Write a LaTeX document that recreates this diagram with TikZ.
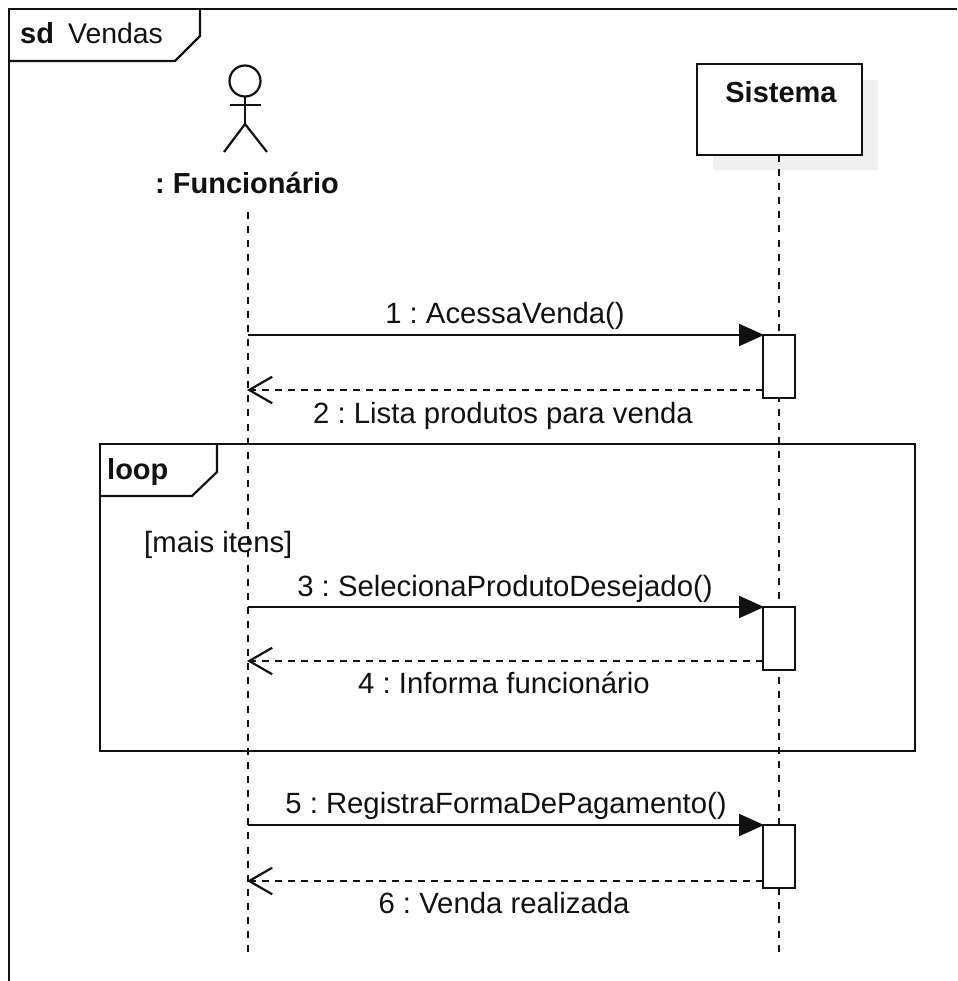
\documentclass[tikz,border=0pt]{standalone}
\usepackage{fontspec}
\setmainfont{Liberation Sans}
\usetikzlibrary{arrows.meta,calc}
\definecolor{ink}{HTML}{111111}
\frenchspacing
\tikzset{
  px/.style={x=1pt,y=-1pt},
  ln/.style={draw=ink,line width=2.2pt},
  lifeln/.style={draw=ink,line width=2.2pt,dash pattern=on 7pt off 7.1pt},
  boxed/.style={draw=ink,line width=2.2pt,fill=white,inner sep=0pt,outer sep=0pt,minimum width=32pt,minimum height=63pt},
  msgcall/.style={ln,-{Triangle[length=25pt,width=22pt]},shorten >=-1pt},
  msgret/.style={draw=ink,line width=2.2pt,dash pattern=on 7pt off 6pt,-{Straight Barb[length=23pt,width=21pt,line width=2.2pt,angle'=60]},shorten >=-1pt},
  lbl/.style={font=\fontsize{29.3pt}{32pt}\selectfont,text=ink,inner sep=0pt,anchor=base},
  blbl/.style={lbl,font=\fontsize{29pt}{32pt}\selectfont\bfseries},
}
\begin{document}
\begin{tikzpicture}[px]
\useasboundingbox (0,0) rectangle (957,981);
% outer frame
\coordinate (fa) at (9,981);
\coordinate (fb) at (9,9);
\coordinate (fc) at (957,9);
\draw[ln] (fa) -- (fb) -- (fc);
\coordinate (ta) at (200,9);
\coordinate (tb) at (200,36);
\coordinate (tc) at (175,61);
\coordinate (td) at (9,61);
\draw[ln] (ta) -- (tb) -- (tc) -- (td);
\node[blbl,anchor=base west] (sdk) at (20,44) {sd};
\node[lbl,anchor=base west,font=\fontsize{28.4pt}{32pt}\selectfont] (sdn) at (68,44) {Vendas};
% system head
\fill[black!6] (713,80) rectangle (878,170);
\node[draw=ink,line width=2.2pt,fill=white,minimum width=165pt,minimum height=91pt,inner sep=0pt,outer sep=0pt] (sys) at (779.5,109.5) {};
\node[blbl] (syst) at (781,103) {Sistema};
% actor
\node[draw=ink,line width=2.2pt,circle,minimum size=31pt,inner sep=0pt,outer sep=0pt] (head) at (245,81) {};
\coordinate (hip) at (245,124);
\coordinate (arml) at (230,105);
\coordinate (armr) at (261,105);
\coordinate (legl) at (224,152);
\coordinate (legr) at (267,152);
\draw[ln] (head.south) -- (hip);
\draw[ln] (arml) -- (armr);
\draw[ln] (legl) -- (hip) -- (legr);
\node[blbl] (actor) at (247,194) {: Funcionário};
% lifelines
\coordinate (l1top) at (248,212);
\coordinate (l1end) at (248,952);
\coordinate (l2top) at (779,155);
\coordinate (l2end) at (779,952);
\draw[lifeln] (l1top) -- (l1end);
\draw[lifeln] (l2top) -- (l2end);
% loop frame
\coordinate (la) at (100,444);
\coordinate (lb) at (915,444);
\coordinate (lc) at (915,751);
\coordinate (ld) at (100,751);
\draw[ln] (la) -- (lb) -- (lc) -- (ld) -- cycle;
\coordinate (lt1) at (217,444);
\coordinate (lt2) at (217,472);
\coordinate (lt3) at (192,496);
\coordinate (lt4) at (100,496);
\draw[ln] (lt1) -- (lt2) -- (lt3) -- (lt4);
\node[blbl,anchor=base west] (loopk) at (107,479) {loop};
\node[lbl,anchor=base west] (guard) at (144,552) {[mais itens]};
% activations
\node[boxed] (a1) at (779,366.5) {};
\node[boxed] (a2) at (779,638.5) {};
\node[boxed] (a3) at (779,856.5) {};
% messages
\coordinate (m1) at (248,335);
\coordinate (r1) at (248,390);
\coordinate (m2) at (248,607);
\coordinate (r2) at (248,661);
\coordinate (m3) at (248,825);
\coordinate (r3) at (248,881);
\draw[msgcall] (m1) -- (m1 -| a1.north west);
\draw[msgret] (a1.west |- r1) -- (r1);
\draw[msgcall] (m2) -- (m2 -| a2.north west);
\draw[msgret] (a2.west |- r2) -- (r2);
\draw[msgcall] (m3) -- (m3 -| a3.north west);
\draw[msgret] (a3.west |- r3) -- (r3);
\node[lbl] (t1) at (505,323) {1 : AcessaVenda()};
\node[lbl] (t2) at (503,423) {2 : Lista produtos para venda};
\node[lbl] (t3) at (505,596) {3 : SelecionaProdutoDesejado()};
\node[lbl] (t4) at (504,693) {4 : Informa funcionário};
\node[lbl] (t5) at (506,813) {5 : RegistraFormaDePagamento()};
\node[lbl] (t6) at (504,913) {6 : Venda realizada};
\end{tikzpicture}
\end{document}
